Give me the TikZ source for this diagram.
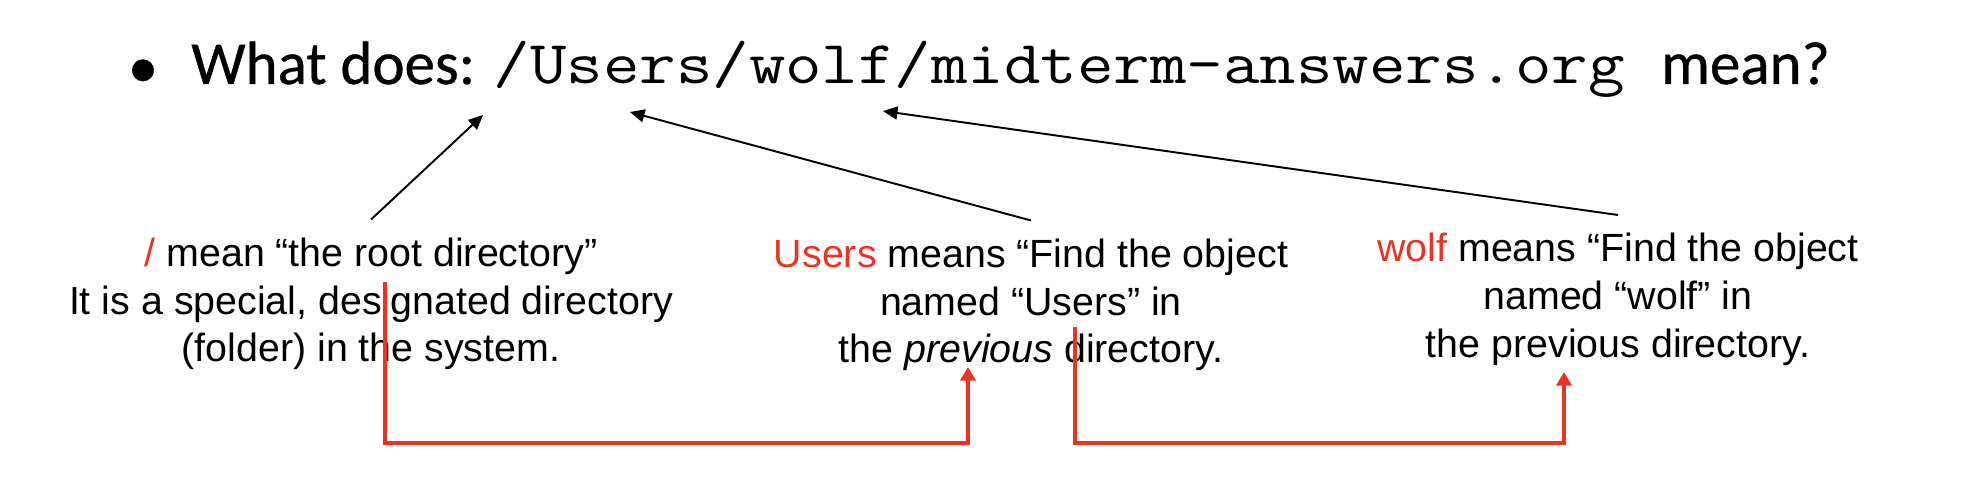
\documentclass[tikz,border=0pt]{standalone}
\usepackage{fontspec}
\setmainfont{Liberation Sans}
\newfontfamily\slidefont[FakeBold=0.6]{Carlito}
\newfontfamily\pathfont[FakeStretch=1.162]{Latin Modern Mono}
\usepackage{xcolor}
\usetikzlibrary{arrows.meta}

\definecolor{pathred}{RGB}{234,51,35}

\begin{document}
\begin{tikzpicture}[
  every node/.style={inner sep=0pt},
  headline/.style={font=\slidefont\fontsize{34.7}{42}\selectfont, anchor=base west},
  note/.style={align=center, inner ysep=0.36cm,
               font=\fontsize{22.4}{27.2}\selectfont},
  arr/.style   ={-{Triangle[length=2.9mm,width=2.6mm]}, line width=1.1pt},
  redarr/.style={-{Triangle[length=2.7mm,width=3mm]}, line width=2.3pt,
                 draw=pathred, color=pathred}
]
\useasboundingbox (0,0) rectangle (39.48,-9.96);

% --- Bullet line with the path ---
\node[font=\slidefont\fontsize{34.7}{42}\selectfont] (dot) at (2.86,-1.47) {\textbullet};
\node[headline] (title) at (3.82,-1.68)
  {What does: {\pathfont /Users/wolf/midterm-answers.org }mean?};

% --- Where the arrows point into the path ---
\coordinate (tipRoot)  at ( 9.66,-2.30);
\coordinate (tipUsers) at (12.60,-2.24);
\coordinate (tipWolf)  at (17.66,-2.22);

% --- Explanations, one per path part ---
\node[note] (root)  at ( 7.42,-6.08) {{\color{pathred}/} mean “the root directory”\\
                                      It is a special, designated directory\\
                                      (folder) in the system.};
\node[note] (users) at (20.62,-6.10) {{\color{pathred}Users} means “Find the object\\
                                      named “Users” in\\
                                      the \textit{previous} directory.};
\node[note] (wolf)  at (32.36,-5.99) {{\color{pathred}wolf} means “Find the object\\
                                      named “wolf” in\\
                                      the previous directory.};

% --- Black arrows up to the path ---
\draw[arr] (root.north)  -- (tipRoot);
\draw[arr] (users.north) -- (tipUsers);
\draw[arr] (wolf.north)  -- (tipWolf);

% --- Red links: each part is looked up in the previous one ---
\coordinate (fromRoot)  at ( 7.70,-5.64);
\coordinate (toUsers)   at (19.36,-7.34);
\coordinate (fromUsers) at (21.50,-6.54);
\coordinate (toWolf)    at (31.28,-7.44);
\draw[redarr] (fromRoot)  |- (19.36,-8.86) -- (toUsers);
\draw[redarr] (fromUsers) |- (31.28,-8.86) -- (toWolf);

\end{tikzpicture}
\end{document}
